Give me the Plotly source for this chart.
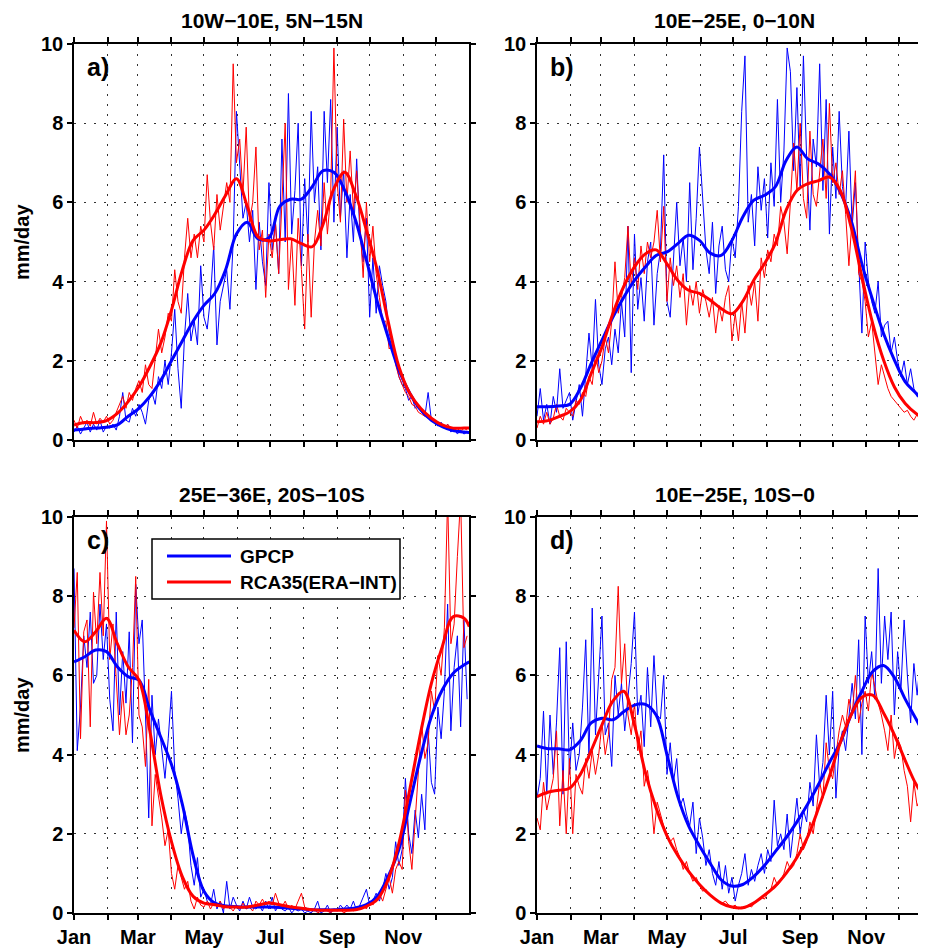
import plotly.graph_objects as go

# ---------------- data ----------------
MONTH_STARTS = [0, 31, 59, 90, 120, 151, 181, 212, 243, 273, 304, 334]
MONTH_TEXT = ["Jan", "", "Mar", "", "May", "", "Jul", "", "Sep", "", "Nov", ""]

SMOOTH_DAYS = [0, 10, 20, 30, 40, 50, 60, 70, 80, 90, 100, 110, 120, 130, 140, 150, 160, 170,
               180, 190, 200, 210, 220, 230, 240, 250, 260, 270, 280, 290, 300, 310, 320, 330,
               340, 350, 360, 365]
DAILY_STEP = 3  # noisy series read every 3rd day

# panel a) 10W-10E, 5N-15N
a_gpcp_smooth = [0.25, 0.28, 0.3, 0.32, 0.38, 0.6, 0.8, 1.1, 1.5, 2.0, 2.5, 3.0, 3.4, 3.7, 4.3, 5.2,
                 5.5, 5.08, 5.1, 5.9, 6.08, 6.08, 6.4, 6.8, 6.76, 6.3, 5.55, 4.54, 3.5, 2.6, 1.76,
                 1.18, 0.76, 0.5, 0.34, 0.24, 0.2, 0.19]
a_rca_smooth = [0.38, 0.44, 0.44, 0.49, 0.67, 0.97, 1.35, 1.85, 2.44, 3.28, 4.29, 5.04, 5.3, 5.7,
                6.18, 6.6, 5.9, 5.13, 5.03, 5.06, 5.08, 4.96, 4.88, 5.45, 6.35, 6.76, 6.2, 5.3, 4.29,
                3.0, 1.85, 1.18, 0.8, 0.55, 0.38, 0.3, 0.3, 0.3]
a_gpcp_daily = [
    0.2, 0.35, 0.15, 0.3, 0.45, 0.2, 0.4, 0.25, 0.5, 0.2, 0.35, 0.3,
    0.4, 0.25, 0.6, 1.2, 0.5, 0.45, 0.8, 0.6, 0.9, 0.7, 0.4, 1.0,
    1.2, 0.9, 1.6, 1.3, 2.0, 1.4, 2.2, 3.3, 1.8, 0.8, 2.6, 3.7,
    2.5, 3.0, 2.4, 4.4, 3.1, 2.8, 3.6, 4.9, 2.4, 3.5, 3.9, 4.3,
    3.3, 5.0, 8.3, 7.0, 5.6, 6.0, 5.0, 5.8, 3.8, 5.5, 4.5, 3.9,
    6.5, 4.8, 5.5, 4.2, 7.6, 5.0, 8.75, 5.2, 6.3, 8.0, 4.4, 6.6,
    5.0, 8.3, 6.0, 6.9, 4.8, 8.3, 6.5, 8.6, 5.5, 7.9, 5.6, 6.8,
    4.6, 6.2, 5.0, 7.1, 5.2, 4.5, 5.6, 3.1, 4.6, 3.2, 4.4, 3.9,
    3.5, 2.7, 2.4, 2.0, 1.6, 1.4, 1.3, 1.0, 1.1, 0.8, 0.9, 0.7,
    0.6, 1.2, 0.5, 0.5, 0.35, 0.45, 0.3, 0.4, 0.2, 0.3, 0.15, 0.25,
    0.15, 0.2]
a_rca_daily = [
    0.5, 0.3, 0.6, 0.4, 0.5, 0.35, 0.7, 0.4, 0.55, 0.45, 0.6, 0.4,
    0.5, 0.7, 0.9, 1.1, 0.8, 1.2, 1.0, 1.3, 1.5, 1.2, 1.9, 1.4,
    1.3, 2.0, 2.8, 2.2, 2.6, 3.2, 3.0, 4.3, 3.5, 3.2, 4.6, 5.6,
    4.6, 5.2, 4.6, 5.4, 5.0, 6.7, 5.5, 4.8, 6.2, 5.3, 5.9, 6.5,
    6.0, 9.5, 7.0, 7.6, 6.2, 7.9, 5.5, 6.0, 7.4, 4.8, 5.3, 3.6,
    5.2, 4.6, 5.5, 4.2, 6.0, 8.0, 3.8, 5.1, 3.4, 5.6, 4.3, 2.8,
    5.2, 3.1, 5.0, 5.8, 4.9, 6.5, 5.2, 6.2, 9.9, 6.5, 5.5, 8.1,
    6.0, 7.3, 5.8, 6.8, 5.5, 4.1, 6.0, 4.5, 5.4, 4.2, 3.6, 3.0,
    3.0, 2.3, 2.4, 1.9, 1.6, 1.4, 1.2, 1.1, 0.9, 0.85, 0.7, 0.65,
    0.6, 0.55, 0.5, 0.45, 0.4, 0.35, 0.3, 0.4, 0.3, 0.25, 0.3, 0.2,
    0.3, 0.25]

# panel b) 10E-25E, 0-10N
b_gpcp_smooth = [0.84, 0.84, 0.86, 0.9, 1.3, 1.93, 2.52, 3.1, 3.6, 4.03, 4.37, 4.66, 4.75, 4.96,
                 5.17, 5.04, 4.72, 4.66, 5.04, 5.63, 6.05, 6.18, 6.39, 7.06, 7.4, 7.1, 6.97, 6.72,
                 6.26, 5.55, 4.45, 3.53, 2.69, 2.02, 1.47, 1.18, 0.88, 0.8]
b_rca_smooth = [0.46, 0.49, 0.59, 0.71, 1.0, 1.68, 2.35, 3.19, 3.87, 4.37, 4.7, 4.8, 4.45, 4.03,
                3.78, 3.7, 3.53, 3.32, 3.19, 3.5, 4.03, 4.45, 4.96, 5.8, 6.3, 6.47, 6.55, 6.64,
                6.3, 5.38, 4.12, 2.94, 2.02, 1.34, 0.92, 0.67, 0.52, 0.48]
b_gpcp_daily = [
    0.6, 1.3, 0.5, 0.9, 0.4, 1.1, 0.7, 1.8, 0.8, 1.0, 1.2, 0.5,
    1.0, 1.4, 0.6, 1.7, 2.7, 1.8, 3.55, 1.9, 1.4, 2.3, 2.6, 1.9,
    2.8, 2.2, 3.5, 2.6, 5.4, 1.7, 5.2, 3.3, 4.1, 3.0, 4.5, 5.0,
    2.9, 4.2, 4.8, 7.2, 3.5, 3.1, 4.6, 6.0, 4.4, 5.1, 4.0, 6.5,
    4.3, 5.6, 7.4, 6.0, 4.8, 4.2, 5.5, 3.7, 4.9, 5.4, 4.3, 4.0,
    5.1, 4.6, 5.9, 8.3, 9.7, 5.5, 6.2, 4.9, 6.9, 5.8, 6.6, 5.1,
    7.0, 5.9, 8.6, 6.0, 7.3, 9.9, 9.3, 6.8, 8.9, 6.4, 9.7, 7.1,
    5.3, 7.6, 6.9, 9.5, 6.3, 8.6, 5.2, 7.4, 6.1, 8.3, 6.4, 5.9,
    7.8, 5.4, 6.5, 4.5, 2.7, 5.0, 4.0, 3.5, 3.2, 4.0, 2.6, 2.9,
    3.0, 2.2, 2.6, 2.0, 1.6, 2.0, 1.4, 1.8, 1.3, 1.1, 1.4, 0.9,
    1.0, 0.8]
b_rca_daily = [
    0.3, 0.6, 0.4, 0.7, 0.4, 0.55, 0.9, 0.6, 0.5, 0.8, 0.7, 0.6,
    1.0, 0.9, 1.2, 1.1, 1.6, 1.4, 2.2, 1.7, 2.0, 2.6, 2.2, 3.0,
    4.5, 3.2, 3.6, 4.1, 5.4, 3.9, 4.6, 3.8, 4.9, 4.2, 5.0, 4.6,
    5.0, 5.8, 4.5, 5.9, 3.5, 4.6, 3.9, 4.4, 3.6, 4.2, 2.9, 3.9,
    3.4, 4.0, 3.2, 3.8, 3.5, 3.1, 3.6, 2.7, 3.4, 3.0, 3.6, 3.9,
    2.5, 3.2, 2.5, 3.5, 2.7, 3.9, 3.4, 4.0, 3.0, 4.6, 4.1, 4.8,
    4.5, 5.2, 4.9, 5.9, 5.5, 4.7, 6.0, 7.5, 6.3, 8.0, 6.1, 5.6,
    7.8, 6.2, 5.9, 6.8, 7.6, 6.1, 8.5, 6.5, 7.0, 6.2, 6.8, 5.7,
    4.4, 5.6, 6.8, 4.2, 4.0, 3.5, 2.6, 3.0, 2.2, 1.4, 1.9, 1.6,
    1.3, 1.1, 1.0, 0.9, 0.8, 0.7, 0.75, 0.6, 0.5, 0.65, 0.45, 0.5,
    0.55, 0.5]

# panel c) 25E-36E, 20S-10S
c_gpcp_smooth = [6.34, 6.47, 6.64, 6.6, 6.22, 5.97, 5.88, 5.13, 4.45, 3.75, 2.75, 1.45, 0.55, 0.25,
                 0.18, 0.16, 0.15, 0.15, 0.15, 0.14, 0.12, 0.1, 0.08, 0.08, 0.08, 0.1, 0.13, 0.21,
                 0.42, 0.92, 1.6, 2.77, 3.95, 4.96, 5.63, 6.05, 6.26, 6.34]
c_rca_smooth = [7.14, 6.85, 7.1, 7.44, 6.8, 6.22, 5.88, 4.6, 3.0, 1.8, 0.92, 0.42, 0.25, 0.21,
                0.16, 0.15, 0.15, 0.2, 0.25, 0.21, 0.15, 0.12, 0.08, 0.07, 0.07, 0.07, 0.08, 0.17,
                0.34, 0.84, 1.76, 3.11, 4.54, 5.8, 6.72, 7.48, 7.45, 7.23]
c_gpcp_daily = [
    8.7, 4.1, 5.2, 7.0, 6.2, 7.6, 5.8, 6.0, 7.8, 6.4, 7.3, 5.4,
    4.6, 7.6, 5.0, 6.6, 5.3, 7.1, 4.3, 8.3, 6.8, 7.4, 5.0, 2.4,
    5.5, 4.0, 4.9, 4.2, 3.4, 4.4, 5.6, 3.6, 2.9, 2.0, 2.6, 2.2,
    1.2, 0.7, 1.4, 0.4, 0.6, 0.3, 0.2, 0.6, 0.1, 0.3, 0.0, 0.8,
    0.1, 0.4, 0.2, 0.05, 0.3, 0.1, 0.4, 0.15, 0.1, 0.2, 0.05, 0.3,
    0.1, 0.4, 0.05, 0.2, 0.1, 0.05, 0.15, 0.0, 0.1, 0.05, 0.1, 0.0,
    0.05, 0.0, 0.1, 0.3, 0.0, 0.05, 0.2, 0.0, 0.1, 0.05, 0.2, 0.1,
    0.2, 0.1, 0.3, 0.05, 0.2, 0.4, 0.6, 0.2, 0.3, 0.5, 0.3, 0.6,
    1.0, 0.6, 0.9, 1.8, 1.2, 1.6, 3.4, 2.0, 1.5, 2.6, 1.9, 3.0,
    2.1, 4.6, 3.3, 3.0, 5.2, 4.4, 5.6, 7.8, 4.6, 6.2, 7.0, 4.7,
    7.4, 5.4]
c_rca_daily = [
    7.2, 8.6, 4.4, 7.1, 7.4, 4.7, 8.1, 6.8, 8.6, 7.0, 9.9, 6.4,
    7.3, 5.8, 4.5, 5.6, 4.5, 5.0, 6.2, 8.5, 5.0, 4.7, 3.7, 5.9,
    2.2, 3.5, 3.0, 2.4, 1.7, 2.1, 1.0, 0.6, 1.2, 0.9, 0.6, 0.8,
    0.3, 0.1, 0.4, 0.2, 0.15, 0.3, 0.1, 0.25, 0.15, 0.3, 0.1, 0.2,
    0.15, 0.05, 0.2, 0.1, 0.25, 0.1, 0.15, 0.05, 0.3, 0.2, 0.35, 0.2,
    0.3, 0.2, 0.5, 0.25, 0.15, 0.3, 0.1, 0.2, 0.1, 0.3, 0.5, 0.15,
    0.1, 0.05, 0.1, 0.0, 0.05, 0.1, 0.05, 0.0, 0.1, 0.05, 0.1, 0.0,
    0.05, 0.1, 0.05, 0.15, 0.1, 0.2, 0.1, 0.3, 0.2, 0.35, 0.5, 0.3,
    0.6, 0.9, 0.5, 1.1, 1.3, 1.1, 3.1, 1.8, 1.1, 2.3, 3.4, 4.8,
    3.9, 4.3, 5.6, 5.1, 6.5, 6.0, 7.2, 10.5, 6.8, 7.3, 9.0, 10.5,
    6.7, 7.0]

# panel d) 10E-25E, 10S-0
d_gpcp_smooth = [4.22, 4.15, 4.15, 4.12, 4.35, 4.8, 4.92, 4.88, 5.08, 5.25, 5.27, 5.0, 4.0, 2.94,
                 2.2, 1.7, 1.25, 0.84, 0.68, 0.72, 0.92, 1.2, 1.55, 1.9, 2.3, 2.75, 3.25, 3.8,
                 4.3, 5.0, 5.6, 6.1, 6.25, 5.95, 5.4, 4.9, 4.4, 4.25]
d_rca_smooth = [2.94, 3.05, 3.1, 3.15, 3.5, 4.1, 4.75, 5.35, 5.6, 4.75, 3.55, 2.65, 1.95, 1.45,
                1.05, 0.72, 0.45, 0.25, 0.15, 0.13, 0.25, 0.45, 0.68, 1.0, 1.4, 1.93, 2.65, 3.45,
                4.3, 5.0, 5.45, 5.5, 5.05, 4.5, 3.85, 3.25, 2.85, 2.7]
d_gpcp_daily = [
    2.9, 3.4, 5.1, 3.0, 5.0, 3.5, 4.8, 6.7, 3.0, 6.85, 3.5, 4.8,
    3.6, 4.0, 5.2, 6.9, 3.9, 7.7, 4.5, 6.0, 7.5, 4.5, 4.8, 3.7,
    6.0, 5.0, 5.8, 4.6, 5.4, 6.3, 7.6, 5.0, 5.5, 4.2, 6.2, 4.7,
    6.5, 5.0, 4.9, 6.0, 3.5, 4.3, 3.3, 3.9, 2.7, 2.9, 2.5, 2.2,
    2.8, 1.5, 2.4, 1.9, 1.2, 1.6, 1.0, 0.7, 1.3, 0.6, 1.2, 0.5,
    0.9, 0.3, 0.7, 1.0, 1.5, 0.7, 1.1, 0.8, 1.2, 1.5, 1.0, 1.6,
    1.3, 2.85, 1.7, 2.0, 1.6, 2.5, 1.4, 2.2, 2.9, 2.0, 2.6, 2.3,
    3.3, 2.7, 4.5, 3.2, 3.8, 5.5, 4.0, 5.6, 2.9, 4.2, 4.6, 4.1,
    5.0, 5.8, 4.9, 6.9, 4.0, 7.5, 5.8, 6.6, 5.4, 8.7, 5.8, 7.5,
    6.4, 7.6, 5.0, 6.6, 5.6, 7.4, 6.0, 4.8, 6.3, 5.5, 6.4, 4.7,
    4.9, 4.3]
d_rca_daily = [
    2.4, 2.1, 3.3, 2.6, 3.0, 3.4, 4.6, 2.2, 3.6, 2.0, 3.9, 2.0,
    3.5, 3.2, 3.0, 3.9, 3.4, 4.1, 3.5, 4.0, 4.8, 4.0, 4.5, 5.9,
    6.2, 8.25, 5.8, 6.8, 5.0, 4.5, 5.3, 4.1, 4.6, 3.2, 3.6, 3.0,
    2.0, 2.8, 2.5, 2.2, 2.0, 1.8, 1.9, 1.6, 1.4, 1.1, 1.3, 1.0,
    0.8, 0.9, 0.7, 0.55, 0.6, 0.45, 0.4, 0.35, 0.3, 0.25, 0.3, 0.2,
    0.15, 0.2, 0.1, 0.15, 0.12, 0.2, 0.15, 0.25, 0.3, 0.4, 0.35, 0.5,
    0.6, 0.9, 0.7, 0.8, 1.0, 1.3, 1.1, 1.2, 1.5, 2.0, 1.6, 1.8,
    2.3, 2.0, 2.6, 3.3, 2.9, 4.3, 3.6, 3.4, 4.0, 4.6, 5.0, 4.7,
    5.4, 5.0, 6.0, 4.8, 5.3, 5.6, 5.1, 6.1, 5.7, 5.3, 5.0, 4.6,
    4.1, 5.0, 3.9, 4.4, 4.2, 3.6, 3.2, 2.3, 3.3, 2.7, 2.9, 2.6,
    2.7, 2.6]

TITLES = ["10W\u221210E, 5N\u221215N", "10E\u221225E, 0\u221210N",
          "25E\u221236E, 20S\u221210S", "10E\u221225E, 10S\u22120"]
LABELS = ["a)", "b)", "c)", "d)"]
SERIES_NAMES = ["GPCP", "RCA35(ERA\u2212INT)"]

# ---------------- figure ----------------
# the page body adds an 8px offset, so the figure is sized to the visible window
OFF = 8
W, H = 926 - OFF, 949 - OFF
FONT = "Liberation Sans, Arial, Helvetica, sans-serif"
BLUE, RED = "#0000ff", "#ff0000"

def px_x(p):  # screen pixel -> paper x
    return (p - OFF) / W

def px_y(p):  # screen pixel -> paper y
    return 1 - (p - OFF) / H

# plot-area screen pixel boxes (left, right, top, bottom)
PX_PER_DAY = 1.083
boxes = [(74, 469, 44, 440), (537, 926, 44, 440), (74, 469, 517, 913), (537, 926, 517, 913)]

panels = [
    (a_gpcp_daily, a_rca_daily, a_gpcp_smooth, a_rca_smooth),
    (b_gpcp_daily, b_rca_daily, b_gpcp_smooth, b_rca_smooth),
    (c_gpcp_daily, c_rca_daily, c_gpcp_smooth, c_rca_smooth),
    (d_gpcp_daily, d_rca_daily, d_gpcp_smooth, d_rca_smooth),
]

fig = go.Figure()
layout = dict(width=W, height=H, margin=dict(l=0, r=0, t=0, b=0, pad=0, autoexpand=False),
              paper_bgcolor="white", plot_bgcolor="white", showlegend=False,
              font=dict(family=FONT, color="black", size=18, weight="bold"))

annotations = []
shapes = []
for i, (gd, rd, gs, rs) in enumerate(panels):
    n = i + 1
    xa = "x" if n == 1 else f"x{n}"
    ya = "y" if n == 1 else f"y{n}"
    l, r, t, b = boxes[i]
    xmax = (r - l) / PX_PER_DAY
    xaxis = dict(domain=[px_x(l), min(1.0, px_x(r))], range=[0, xmax], anchor=ya,
                 automargin=False,
                 tickmode="array", tickvals=MONTH_STARTS, ticktext=MONTH_TEXT,
                 showticklabels=(i >= 2), ticks="outside", ticklen=5, tickwidth=1.5,
                 tickcolor="black", showline=True, linewidth=1.5, linecolor="black",
                 mirror="ticks", showgrid=True, gridcolor="#333333", gridwidth=1,
                 griddash="2px,8px", zeroline=False,
                 tickfont=dict(size=20, family=FONT, weight="bold", color="black"))
    yaxis = dict(domain=[px_y(b), px_y(t)], range=[0, 10], anchor=xa, automargin=False,
                 tickmode="array", tickvals=[0, 2, 4, 6, 8, 10],
                 ticks="outside", ticklen=5, tickwidth=1.5, tickcolor="black",
                 showline=True, linewidth=1.5, linecolor="black",
                 mirror=("ticks" if i in (0, 2) else False),
                 showgrid=True, gridcolor="#333333", gridwidth=1, griddash="2px,8px",
                 zeroline=False,
                 tickfont=dict(size=20, family=FONT, weight="bold", color="black"))
    layout["xaxis" if n == 1 else f"xaxis{n}"] = xaxis
    layout["yaxis" if n == 1 else f"yaxis{n}"] = yaxis

    ddays_g = [DAILY_STEP * k for k in range(len(gd))]
    ddays_r = [DAILY_STEP * k for k in range(len(rd))]
    fig.add_trace(go.Scatter(x=ddays_g, y=gd, mode="lines", xaxis=xa, yaxis=ya,
                             line=dict(color=BLUE, width=1), name=SERIES_NAMES[0]))
    fig.add_trace(go.Scatter(x=ddays_r, y=rd, mode="lines", xaxis=xa, yaxis=ya,
                             line=dict(color=RED, width=1), name=SERIES_NAMES[1]))
    fig.add_trace(go.Scatter(x=SMOOTH_DAYS, y=gs, mode="lines", xaxis=xa, yaxis=ya,
                             line=dict(color=BLUE, width=3, shape="spline", smoothing=1.0),
                             name=SERIES_NAMES[0]))
    fig.add_trace(go.Scatter(x=SMOOTH_DAYS, y=rs, mode="lines", xaxis=xa, yaxis=ya,
                             line=dict(color=RED, width=3, shape="spline", smoothing=1.0),
                             name=SERIES_NAMES[1]))

    # panel title
    cx = l + 197.5
    annotations.append(dict(text=f"<b>{TITLES[i]}</b>", x=px_x(cx), y=px_y(t - 23),
                            xref="paper", yref="paper", xanchor="center", yanchor="middle",
                            borderpad=0, showarrow=False,
                            font=dict(size=21, family=FONT, color="black")))
    # panel letter
    annotations.append(dict(text=f"<b>{LABELS[i]}</b>", x=px_x(l + 11), y=px_y(t + 23),
                            xref="paper", yref="paper", xanchor="left", yanchor="middle",
                            showarrow=False, font=dict(size=25, family=FONT, color="black")))
    if i in (0, 2):
        annotations.append(dict(text="<b>mm/day</b>", x=px_x(22), y=px_y((t + b) / 2),
                                xref="paper", yref="paper", xanchor="center", yanchor="middle",
                                textangle=-90, showarrow=False,
                                font=dict(size=20, family=FONT, color="black")))

# legend (panel c), drawn as a boxed key
lx0, lx1, ly0, ly1 = 152, 400, 539, 599
shapes.append(dict(type="rect", xref="paper", yref="paper", x0=px_x(lx0), x1=px_x(lx1),
                   y0=px_y(ly1), y1=px_y(ly0), line=dict(color="black", width=1.5),
                   fillcolor="white", layer="above"))
for k, (col, ypix) in enumerate([(BLUE, 556), (RED, 582)]):
    shapes.append(dict(type="line", xref="paper", yref="paper", x0=px_x(167), x1=px_x(231),
                       y0=px_y(ypix), y1=px_y(ypix), line=dict(color=col, width=3),
                       layer="above"))
    annotations.append(dict(text=f"<b>{SERIES_NAMES[k]}</b>", x=px_x(238), y=px_y(ypix),
                            xref="paper", yref="paper", xanchor="left", yanchor="middle",
                            showarrow=False, font=dict(size=19, family=FONT, color="black")))

layout["annotations"] = annotations
layout["shapes"] = shapes
fig.update_layout(**layout)
fig.write_html("out.html")
